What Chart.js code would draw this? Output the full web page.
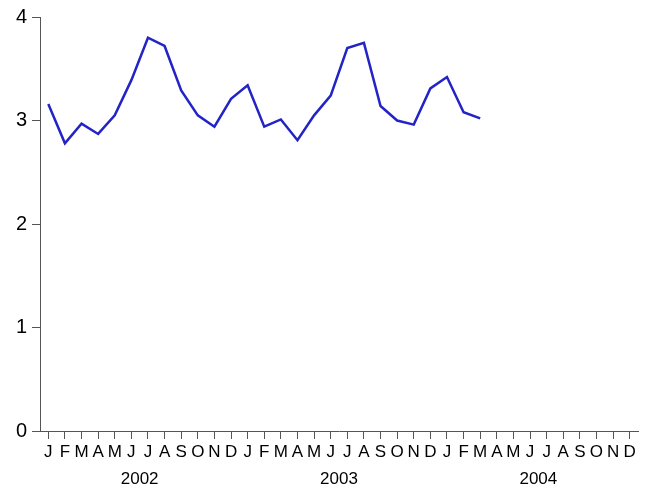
<!DOCTYPE html>
<html>
<head>
<meta charset="utf-8">
<script src="https://cdn.jsdelivr.net/npm/chart.js@4.4.1/dist/chart.umd.min.js"></script>
<style>
  body { margin: 0; background: #fff; }
  #chart { display: block; }
</style>
</head>
<body>
<canvas id="chart" width="648" height="489"></canvas>
<script>
// Month letters repeated for each year on the axis
const monthLetters = ["J", "F", "M", "A", "M", "J", "J", "A", "S", "O", "N", "D"];
const years = ["2002", "2003", "2004"];

// Series values, Jan 2002 .. Mar 2004
const values = [
  3.16, 2.78, 2.97, 2.87, 3.05, 3.39, 3.80, 3.72, 3.29, 3.05, 2.94, 3.21,
  3.34, 2.94, 3.01, 2.81, 3.05, 3.24, 3.70, 3.75, 3.14, 3.00, 2.96, 3.31,
  3.42, 3.08, 3.02,
];

const yTicks = [0, 1, 2, 3, 4];

const lineColor = "#2323c6";
const axisColor = "#555";
const fontFamily = "'Liberation Sans', Arial, sans-serif";

// Build one label per month for all years
const labels = [];
years.forEach((y) => monthLetters.forEach((m) => labels.push(m)));

// Draws the year names below the month letters, centred under each year
const yearLabels = {
  id: "yearLabels",
  afterDraw(chart) {
    const xs = chart.scales.x;
    const ctx = chart.ctx;
    ctx.save();
    ctx.font = "17px " + fontFamily;
    ctx.fillStyle = "#000";
    ctx.textAlign = "center";
    ctx.textBaseline = "alphabetic";
    years.forEach((yr, i) => {
      const first = xs.getPixelForValue(i * 12);
      const last = xs.getPixelForValue(i * 12 + 11);
      ctx.fillText(yr, (first + last) / 2, 484);
    });
    ctx.restore();
  },
};

new Chart(document.getElementById("chart").getContext("2d"), {
  type: "line",
  data: {
    labels: labels,
    datasets: [
      {
        data: values,
        borderColor: lineColor,
        borderWidth: 2.5,
        pointRadius: 0,
        tension: 0,
        fill: false,
      },
    ],
  },
  options: {
    responsive: false,
    animation: false,
    layout: { padding: { top: 7, right: 10, left: 0, bottom: 0 } },
    plugins: {
      legend: { display: false },
      tooltip: { enabled: false },
    },
    scales: {
      x: {
        type: "category",
        offset: true,
        grid: {
          offset: false,
          drawOnChartArea: false,
          tickLength: 8,
          color: axisColor,
        },
        border: { color: axisColor, width: 1 },
        ticks: {
          autoSkip: false,
          maxRotation: 0,
          color: "#000",
          padding: 3,
          font: { family: fontFamily, size: 17 },
        },
        afterFit(scale) {
          scale.height = 58;
        },
      },
      y: {
        min: 0,
        max: 4,
        afterBuildTicks(scale) {
          scale.ticks = yTicks.map((v) => ({ value: v }));
        },
        grid: {
          drawOnChartArea: false,
          tickLength: 8,
          color: axisColor,
        },
        border: { color: axisColor, width: 1 },
        ticks: {
          color: "#000",
          padding: 5,
          font: { family: fontFamily, size: 20 },
        },
        afterFit(scale) {
          scale.width = 40;
        },
      },
    },
  },
  plugins: [yearLabels],
});
</script>
</body>
</html>
